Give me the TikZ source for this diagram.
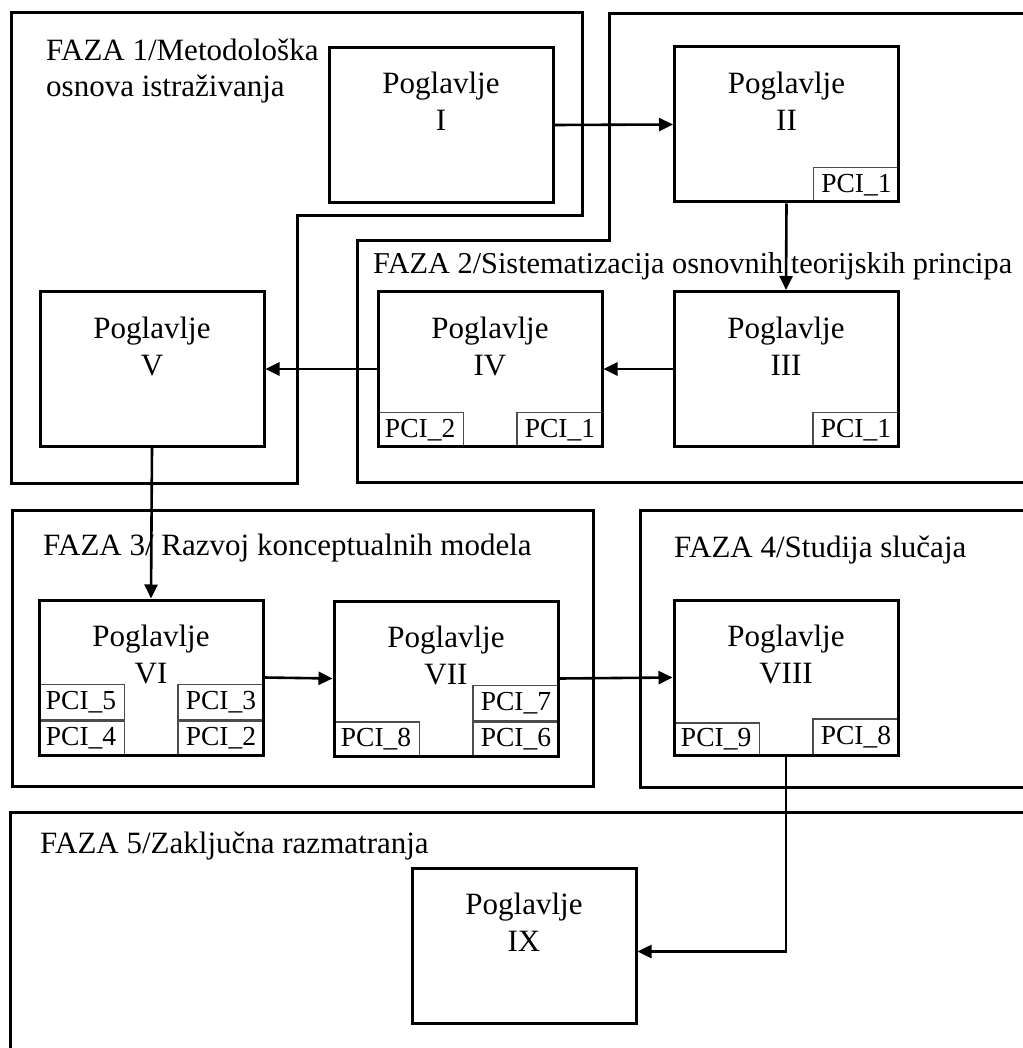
\documentclass[tikz,border=0pt]{standalone}
\usepackage{fontspec}
\setmainfont{Liberation Serif}
\usetikzlibrary{arrows.meta,calc,backgrounds}
\begin{document}
\begin{tikzpicture}[x=1pt,y=-1pt,
  chap/.style={draw, line width=3pt, minimum width=224pt, minimum height=155pt, inner sep=0pt},
  pci/.style={draw=black!70, line width=1.2pt, minimum width=86pt, minimum height=35pt, inner sep=0pt,
              font=\fontsize{27.5}{30}\selectfont},
  lbl/.style={anchor=base, inner sep=0pt, font=\fontsize{31}{36}\selectfont},
  ttl/.style={anchor=base west, inner sep=0pt, font=\fontsize{31}{36}\selectfont},
  phase/.style={line width=3pt},
  arr/.style={line width=2.6pt, -{Triangle[length=14pt,width=13pt]}}
]
\useasboundingbox (0,0) rectangle (1022,1048);
\clip (0,0) rectangle (1022,1048);

% chapter boxes
\node[chap] (c1) at (441,125)   {};
\node[chap] (c2) at (786.5,124.5) {};
\node[chap] (c3) at (786,369)   {};
\node[chap] (c4) at (490,369)   {};
\node[chap] (c5) at (152,369)   {};
\node[chap] (c6) at (151,677.5) {};
\node[chap] (c7) at (446,678.5) {};
\node[chap] (c8) at (786,677.5) {};
\node[chap] (c9) at (524,945.5) {};

% chapter captions
\foreach \n/\r in {c1/I,c2/II,c3/III,c4/IV,c5/V,c6/VI,c7/VII,c8/VIII,c9/IX}{
  \node[lbl] (\n-t) at ($(\n.north)+(0,48)$) {Poglavlje};
  \node[lbl] (\n-r) at ($(\n.north)+(0,85)$) {\r};
}

\begin{scope}[on background layer]
  % phase outlines
  \draw[phase] (11,13) -- (582,13) -- (582,216) -- (297,216) -- (297,483) -- (11,483) -- cycle;
  \draw[phase] (1040,14) -- (609,14) -- (609,241) -- (357,241) -- (357,482) -- (1040,482);
  \draw[phase] (12,510) rectangle (593,786);
  \draw[phase] (1040,510) -- (640,510) -- (640,787) -- (1040,787);
  \draw[phase] (1040,812) -- (10,812) -- (10,1070);

  % PCI tags
  \node[pci, anchor=south east] (p2a) at (c2.south east) {PCI\_1};
  \node[pci, anchor=south east] (p3a) at (c3.south east) {PCI\_1};
  \node[pci, anchor=south west] (p4b) at (c4.south west) {PCI\_2};
  \node[pci, anchor=south east] (p4a) at (c4.south east) {PCI\_1};
  \node[pci, anchor=south west] (p6d) at (c6.south west) {PCI\_4};
  \node[pci, anchor=south west] (p6e) at (p6d.north west) {PCI\_5};
  \node[pci, anchor=south east] (p6b) at (c6.south east) {PCI\_2};
  \node[pci, anchor=south east] (p6c) at (p6b.north east) {PCI\_3};
  \node[pci, anchor=south west] (p7h) at (c7.south west) {PCI\_8};
  \node[pci, anchor=south east] (p7f) at (c7.south east) {PCI\_6};
  \node[pci, anchor=south east] (p7g) at (p7f.north east) {PCI\_7};
  \node[pci, anchor=south west, minimum height=33pt] (p8i) at (c8.south west) {PCI\_9};
  \node[pci, anchor=south east, minimum height=37pt] (p8h) at (c8.south east) {PCI\_8};
\end{scope}

% phase titles
\node[ttl] (t1a) at (46,61) {FAZA 1/Metodološka};
\node[ttl] (t1b) at (46,97) {osnova istraživanja};
\node[ttl, font=\fontsize{30.3}{36}\selectfont] (t2) at (373,274) {FAZA 2/Sistematizacija osnovnih teorijskih principa};
\node[ttl] (t3) at (43,555) {FAZA 3/ Razvoj konceptualnih modela};
\node[ttl] (t4) at (674,557) {FAZA 4/Studija slučaja};
\node[ttl] (t5) at (40,853) {FAZA 5/Zaključna razmatranja};

% flow between chapters
\coordinate (bend) at ($(c8.south)+(0,195)$);
\draw[arr] (c1.east) -- (c2.west);
\draw[arr] (c2.south) -- (c3.north);
\draw[arr] (c3.west) -- (c4.east);
\draw[arr] (c4.west) -- (c5.east);
\draw[arr] (c5.south) -- (c6.north);
\draw[arr] (c6.east) -- (c7.west);
\draw[arr] (c7.east) -- (c8.west);
\draw[arr] (c8.south) -- (bend) -- (bend -| c9.east);
\end{tikzpicture}
\end{document}
